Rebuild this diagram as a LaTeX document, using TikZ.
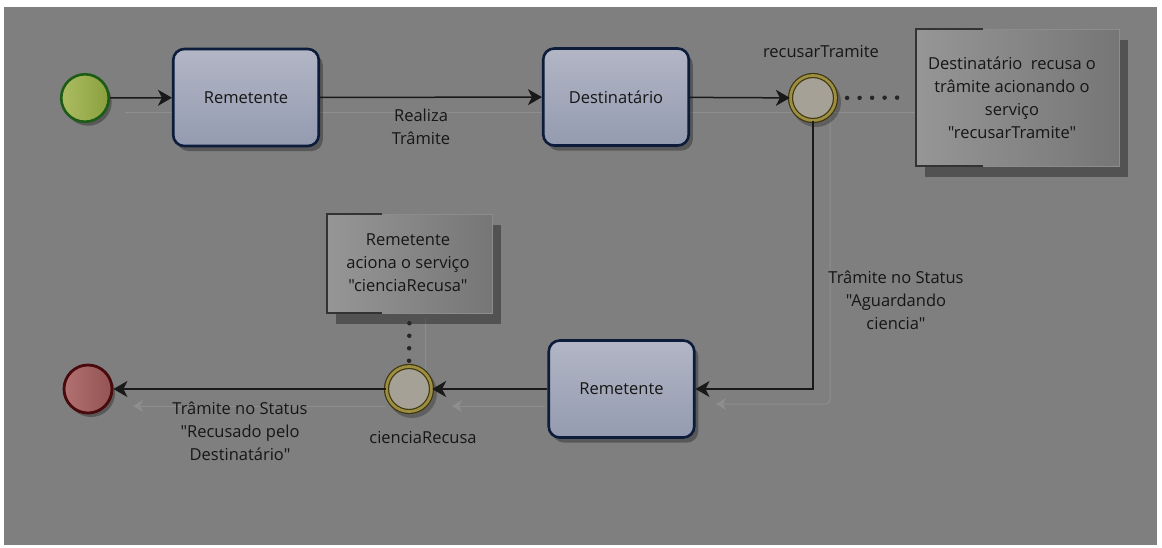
\documentclass[tikz,border=0pt]{standalone}
\usepackage{fontspec}
\setmainfont{Open Sans}[Ligatures=TeXOff]
\usetikzlibrary{arrows.meta,shadows,calc}
\newcommand{\dq}{\symbol{34}}
\definecolor{bg}{RGB}{127,127,127}
\definecolor{ghostc}{RGB}{142,142,142}
\definecolor{taskTop}{RGB}{178,182,197}
\definecolor{taskBot}{RGB}{148,155,176}
\definecolor{taskBorder}{RGB}{12,28,58}
\definecolor{startTop}{RGB}{172,188,98}
\definecolor{startBot}{RGB}{138,160,62}
\definecolor{startBorder}{RGB}{28,92,22}
\definecolor{evFill}{RGB}{166,161,150}
\definecolor{ringGold}{RGB}{158,142,66}
\definecolor{ringDark}{RGB}{62,54,14}
\definecolor{endTop}{RGB}{178,112,112}
\definecolor{endBot}{RGB}{148,84,84}
\definecolor{endBorder}{RGB}{72,10,12}
\definecolor{annLeft}{RGB}{150,150,150}
\definecolor{annRight}{RGB}{118,118,118}
\definecolor{txt}{RGB}{22,22,22}
\begin{document}
\begin{tikzpicture}[x=1pt,y=-1pt,
  font=\fontsize{16.5}{23}\selectfont, text=txt,
  task/.style={rectangle, rounded corners=11pt, draw=taskBorder, line width=2.6pt,
    top color=taskTop, bottom color=taskBot, minimum width=145.5pt, minimum height=97pt,
    inner sep=0pt, drop shadow={shadow xshift=4pt, shadow yshift=-5pt, fill=black, opacity=0.3}},
  startev/.style={circle, draw=startBorder, line width=2.6pt, left color=startTop, right color=startBot,
    minimum size=47.5pt, inner sep=0pt, drop shadow={shadow xshift=3pt, shadow yshift=-4pt, fill=black, opacity=0.3}},
  interev/.style={circle, draw=ringDark, line width=1.2pt, double=ringGold, double distance=2.8pt,
    fill=evFill, minimum size=45pt, inner sep=0pt},
  endev/.style={circle, draw=endBorder, line width=2.8pt, left color=endTop, right color=endBot,
    minimum size=48pt, inner sep=0pt, drop shadow={shadow xshift=3pt, shadow yshift=-4pt, fill=black, opacity=0.3}},
  annot/.style={rectangle, draw=black!45, line width=0.5pt, left color=annLeft, right color=annRight,
    inner sep=0pt, align=center, drop shadow={shadow xshift=9pt, shadow yshift=-11pt, fill=black, opacity=0.35}},
  bracket/.style={line width=1.6pt, draw=black!80},
  flow/.style={line width=1.5pt, draw=black!90, -{Stealth[length=14pt,width=16pt,inset=4pt]}},
  assoc/.style={line width=4.5pt, draw=black!85, line cap=round, dash pattern=on 0pt off 12.5pt},
  ghost/.style={line width=1pt, draw=ghostc},
  ghostarrow/.style={ghost, -{Stealth[length=10pt,width=12pt,inset=3pt]}},
  lbl/.style={align=center, inner sep=0pt}
]
\useasboundingbox (0,0) rectangle (1162,547);
\fill[white] (0,0) rectangle (1162,547);
\fill[bg] (4,7) rectangle (1157,545);

% faint ghost connectors
\coordinate (g1) at (125,112);
\coordinate (g2) at (917,112);
\coordinate (g3) at (830,112);
\coordinate (g4) at (830,404);
\coordinate (g5) at (716,404);
\coordinate (g6) at (545,406);
\coordinate (g7) at (452,406);
\coordinate (g8) at (385,406);
\coordinate (g9) at (133,406);
\coordinate (g10) at (425,318);
\coordinate (g11) at (425,372);
\draw[ghost] (g1) -- (g2);
\draw[ghostarrow, rounded corners=4pt] (g3) -- (g4) -- (g5);
\draw[ghostarrow] (g6) -- (g7);
\draw[ghostarrow] (g8) -- (g9);
\draw[ghost] (g10) -- (g11);

% nodes
\node[startev] (start) at (85,98) {};
\node[task] (rem1) at (246,97.5) {Remetente};
\node[task] (dest) at (616,97) {Destinatário};
\fill[black, opacity=0.25] (816,102) circle (25pt);
\node[interev] (recusar) at (813,98) {};
\node[annot, minimum width=203pt, minimum height=137pt] (ann1) at (1017.5,97.5) {};
\node[lbl] (ann1txt) at (1012,97.5) {Destinatário\ \ recusa o\\trâmite acionando o\\serviço\\\dq recusarTramite\dq};
\draw[bracket] ($(ann1.north west)+(67,0)$) -- (ann1.north west) -- (ann1.south west) -- ($(ann1.south west)+(67,0)$);

\node[task] (rem2) at (621.5,389) {Remetente};
\fill[black, opacity=0.25] (412,393) circle (25pt);
\node[interev] (ciencia) at (409,389) {};
\node[endev] (endn) at (88,389) {};
\node[annot, minimum width=165pt, minimum height=99pt] (ann2) at (409.5,263.5) {};
\node[lbl] (ann2txt) at (408,262.5) {Remetente\\aciona o serviço\\\dq cienciaRecusa\dq};
\draw[bracket] ($(ann2.north west)+(55,0)$) -- (ann2.north west) -- (ann2.south west) -- ($(ann2.south west)+(55,0)$);

% labels
\node[lbl] (lRealiza) at (421,126.5) {Realiza\\Trâmite};
\node[lbl] (lRecusar) at (821,52) {recusarTramite};
\node[lbl] (lAguard) at (896,300) {Trâmite no Status\\\dq Aguardando\\ciencia\dq};
\node[lbl] (lCiencia) at (423,438) {cienciaRecusa};
\node[lbl] (lRecusado) at (240,431.5) {Trâmite no Status\\\dq Recusado pelo\\Destinatário\dq};

% connectors
\draw[flow] (start) -- (rem1);
\draw[flow] (rem1) -- (dest);
\draw[flow] (dest) -- (recusar);
\draw[flow] (recusar.south) |- (rem2.east);
\draw[flow] (rem2) -- (ciencia);
\draw[flow] (ciencia) -- (endn);
\draw[assoc, shorten <=11pt, shorten >=8pt] (recusar.east) -- (ann1.west);
\draw[assoc, shorten <=10pt] (ann2.south) -- (ciencia.north);
\end{tikzpicture}
\end{document}
